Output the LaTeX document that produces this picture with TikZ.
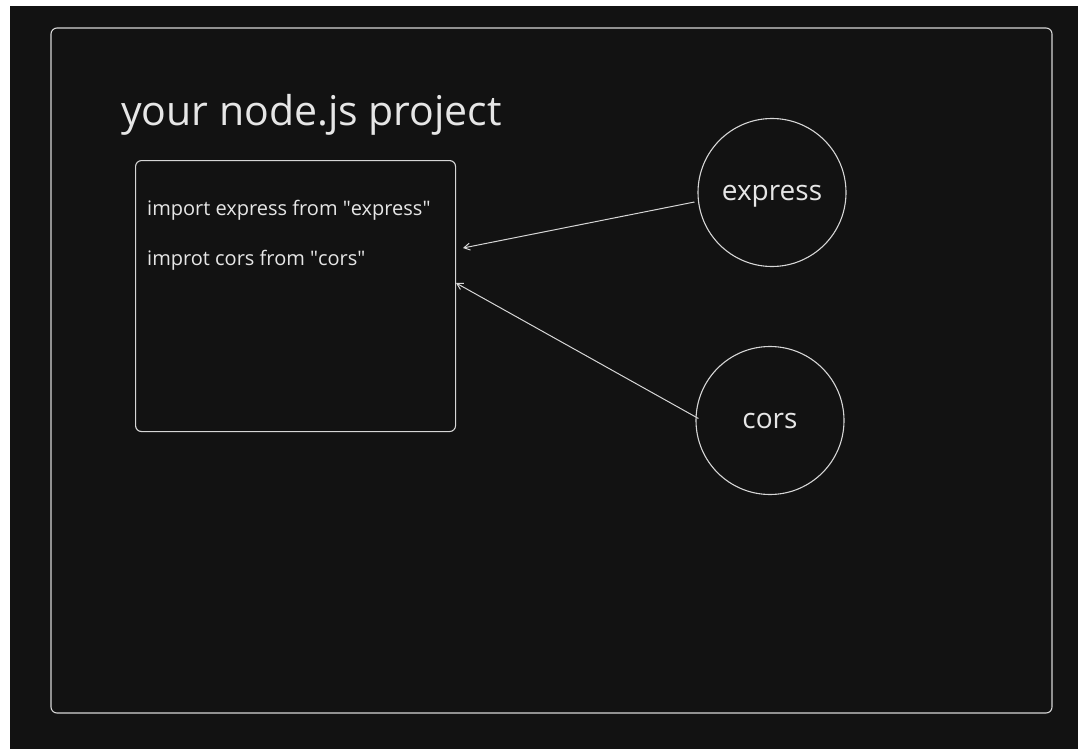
\documentclass[tikz,border=0pt]{standalone}
\usepackage{fontspec}
\setmainfont{Open Sans}
\usetikzlibrary{arrows.meta}
\definecolor{canvas}{HTML}{121212}
\definecolor{ink}{HTML}{D6D6D6}
\definecolor{letter}{HTML}{E6E6E6}
\tikzset{
  frame/.style={draw=ink, line width=1.1pt, rounded corners=6pt},
  bubble/.style={circle, draw=ink, line width=1.1pt, minimum size=148pt, inner sep=0pt,
    text height=15pt, text depth=0pt, text=letter, font=\fontsize{28}{32}\selectfont},
  link/.style={draw=ink, line width=1pt, -{Straight Barb[length=6pt, width=7pt]}},
  codeline/.style={anchor=base west, text=letter, inner sep=0pt, font=\fontsize{20}{24}\selectfont},
}
\newcommand{\qt}{\textquotedbl}
\begin{document}
\begin{tikzpicture}[x=1pt, y=-1pt]
  \useasboundingbox (0,0) rectangle (1084,749);
  \fill[white] (0,0) rectangle (1084,749);
  \fill[canvas] (10,6) rectangle (1078,749);

  % project boundary
  \draw[frame] (51,28) rectangle (1052,713);
  \node[anchor=base west, text=letter, inner sep=0pt, font=\fontsize{41}{48}\selectfont] (title) at (121,125) {your node.js project};

  % source file with its imports
  \node[frame, draw, minimum width=320pt, minimum height=271pt, anchor=north west, inner sep=0pt] (file) at (135,160) {};
  \node[codeline] (line1) at (147,215) {import express from \qt express\qt};
  \node[codeline] (line2) at (147,265) {improt cors from \qt cors\qt};

  % packages
  \node[bubble] (express) at (772,192.5) {express};
  \node[bubble] (cors) at (770,420.5) {cors};

  \coordinate (in1) at (463,248);
  \coordinate (in2) at (456,283);
  \draw[link] (express.west |- 0,202) ++(-3,0) -- (in1);
  \draw[link] ([shift={(3,-2)}]cors.west) -- (in2);
\end{tikzpicture}
\end{document}
